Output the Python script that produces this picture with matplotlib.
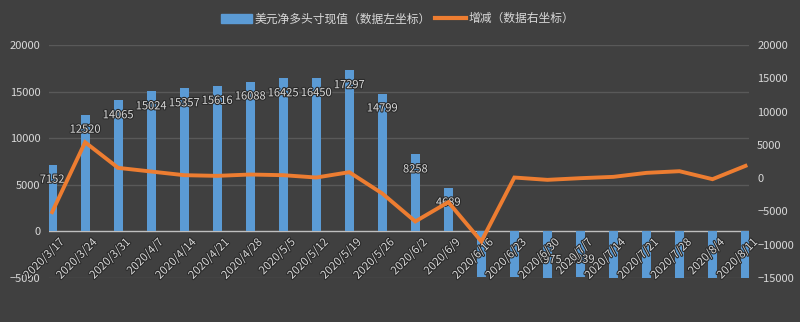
import matplotlib
matplotlib.use('Agg')
import matplotlib.pyplot as plt
import matplotlib.patheffects as pe
import numpy as np

plt.rcParams['font.family'] = ['Noto Sans CJK SC', 'DejaVu Sans']

# 数据
dates = ['2020/3/17', '2020/3/24', '2020/3/31', '2020/4/7', '2020/4/14', '2020/4/21',
         '2020/4/28', '2020/5/5', '2020/5/12', '2020/5/19', '2020/5/26', '2020/6/2',
         '2020/6/9', '2020/6/16', '2020/6/23', '2020/6/30', '2020/7/7', '2020/7/14',
         '2020/7/21', '2020/7/28', '2020/8/4', '2020/8/11']
net_long = [7152, 12520, 14065, 15024, 15357, 15616, 16088, 16425, 16450, 17297, 14799,
            8258, 4689, -4850, -4900, -4975, -4939, -4960, -4980, -4990, -4970, -4990]
change = [-5100, 5400, 1550, 1000, 450, 350, 550, 450, 100, 900, -2300, -6500,
          -3600, -9500, 100, -250, 0, 200, 800, 1050, -150, 1850]
shown_labels = [0, 1, 2, 3, 4, 5, 6, 7, 8, 9, 10, 11, 12, 15, 16]

bg = '#404040'
txt = '#d9d9d9'
blue = '#5b9bd5'
orange = '#ed7d31'
glow = [pe.withStroke(linewidth=1.6, foreground='#2a2a2a')]

fig = plt.figure(figsize=(8, 3.22), dpi=100, facecolor=bg)
ax = fig.add_axes([0.061, 0.1366, 0.875, 0.7234], facecolor=bg)
x = np.arange(len(dates))

for v in [20000, 15000, 10000, 5000, -5000]:
    ax.axhline(v, color='#595959', lw=1, zorder=0)
ax.axhline(0, color='#bfbfbf', lw=1, zorder=1)

ax.bar(x, net_long, width=0.27, color=blue, zorder=2)
ax.set_xlim(-0.1, len(dates) - 0.9)
ax.set_ylim(-5000, 20000)
ax.set_yticks([-5000, 0, 5000, 10000, 15000, 20000])
ax.set_xticks([])
ax.tick_params(axis='y', length=0, colors=txt, labelsize=8, pad=6)
for s in ax.spines.values():
    s.set_visible(False)

for i in shown_labels:
    v = net_long[i]
    off = -1600 if v > 0 else 1900
    ax.text(x[i], v + off, str(v), ha='center', va='center', color=txt,
            fontsize=8, zorder=5, path_effects=glow)

for i, d in enumerate(dates):
    ax.annotate(d, (x[i], 0), xytext=(5, -4), textcoords='offset points',
                ha='right', va='top', rotation=45, rotation_mode='anchor',
                color=txt, fontsize=8, zorder=6, path_effects=glow,
                annotation_clip=False)

ax2 = ax.twinx()
ax2.plot(x, change, color=orange, lw=2.8, zorder=4, solid_joinstyle='miter')
ax2.set_ylim(-15000, 20000)
ax2.set_yticks(np.arange(-15000, 20001, 5000))
ax2.tick_params(axis='y', length=0, colors=txt, labelsize=8, pad=6)
for s in ax2.spines.values():
    s.set_visible(False)

from matplotlib.patches import Patch
from matplotlib.lines import Line2D
handles = [Patch(facecolor=blue, edgecolor=blue),
           Line2D([], [], color=orange, lw=3)]
fig.legend(handles, ['美元净多头寸现值（数据左坐标）', '增减（数据右坐标）'],
           loc='center', bbox_to_anchor=(0.497, 0.942), ncol=2, frameon=False,
           fontsize=8.5, labelcolor=txt, handlelength=2.7, handleheight=0.8,
           handletextpad=0.2, columnspacing=0.3)

fig.savefig('out.png', dpi=100, facecolor=bg)
